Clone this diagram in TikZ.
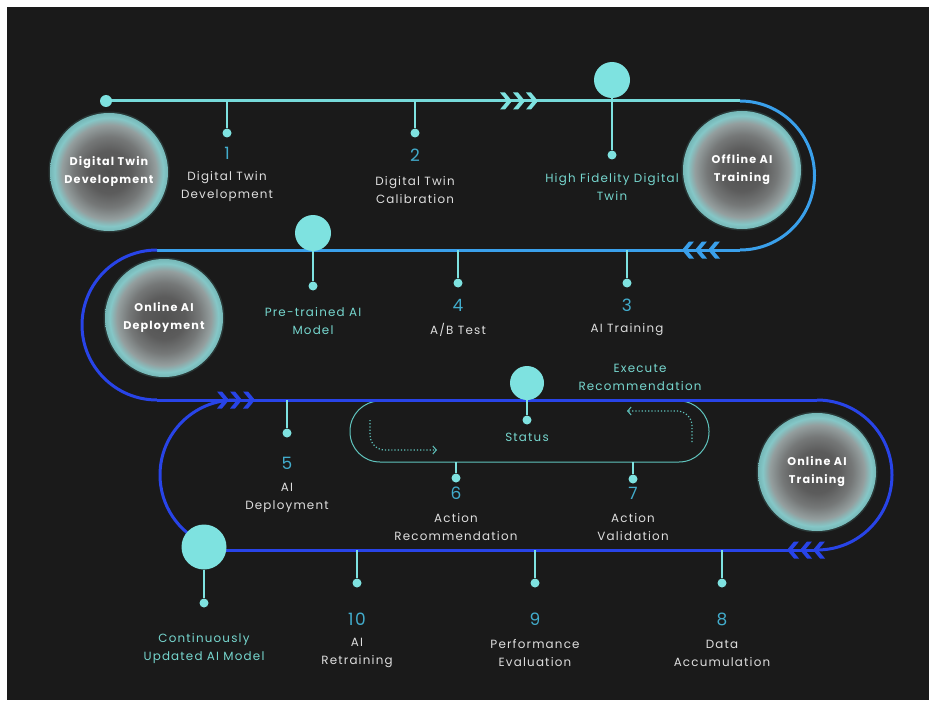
\documentclass[tikz,border=0pt]{standalone}
\usepackage{fontspec}
\setmainfont{Poppins}[LetterSpace=10]
\usetikzlibrary{arrows.meta}

\definecolor{bgdark}{RGB}{26,26,26}
\definecolor{aqua}{RGB}{126,226,224}
\definecolor{aqualine}{RGB}{118,218,218}
\definecolor{skyblue}{RGB}{58,160,235}
\definecolor{royal}{RGB}{40,68,232}
\definecolor{numblue}{RGB}{66,172,204}
\definecolor{labwhite}{RGB}{222,222,222}
\definecolor{labcyan}{RGB}{118,214,206}
\definecolor{loopline}{RGB}{96,196,190}

% grey orb with a cyan rim
\pgfdeclareradialshading{orb}{\pgfpoint{0bp}{0bp}}{%
  rgb(0bp)=(0.32,0.32,0.32);
  rgb(9bp)=(0.36,0.36,0.36);
  rgb(15bp)=(0.46,0.47,0.47);
  rgb(20bp)=(0.58,0.62,0.62);
  rgb(23bp)=(0.52,0.78,0.78);
  rgb(25bp)=(0.46,0.72,0.72);
  rgb(50bp)=(0.46,0.72,0.72)}

\tikzset{
  orbnode/.style={circle, minimum size=118pt, inner sep=0pt, shade, shading=orb,
    text=white, align=center, font=\bfseries\fontsize{11.2}{18}\selectfont},
  hub/.style={circle, fill=aqua, inner sep=0pt, minimum size=#1},
  dotnode/.style={circle, fill=aqua, inner sep=0pt, minimum size=9pt},
  startdot/.style={circle, fill=aqua, inner sep=0pt, minimum size=12pt},
  tick/.style={draw=aqua, line width=2.4pt},
  thintick/.style={draw=aqua, line width=1.6pt},
  track/.style={line width=3pt},
  num/.style={text=numblue, inner sep=0pt, font=\fontsize{17}{20}\selectfont},
  lab/.style={text=labwhite, inner sep=0pt, align=center, font=\fontsize{11.9}{18}\selectfont},
  clab/.style={lab, text=labcyan},
  chevR/.pic={\fill[#1] (-12,-8.5) -- (-7,-8.5) -- (0,0) -- (-7,8.5) -- (-12,8.5) -- (-5,0) -- cycle;},
  chevL/.pic={\fill[#1] (12,-8.5) -- (7,-8.5) -- (0,0) -- (7,8.5) -- (12,8.5) -- (5,0) -- cycle;},
}

\begin{document}
\begin{tikzpicture}[x=1pt, y=-1pt]
\useasboundingbox (0,0) rectangle (935,706);
\fill[white] (0,0) rectangle (935,706);
\fill[bgdark] (7,7) rectangle (929,700);

% ---------- the winding track ----------
\coordinate (r1s) at (106,101);
\coordinate (r1e) at (740,101);
\coordinate (r2e) at (157,250);
\coordinate (r3e) at (817,400);
\coordinate (r4s) at (204,550);
\coordinate (ilp) at (235,400);

% control loop behind the third row
\draw[draw=loopline, line width=1pt, rounded corners=30pt] (350,401) rectangle (709,462);
\coordinate (lp6) at (456,462);
\coordinate (lp7) at (633,462);

\draw[track, draw=aqualine] (r1s) -- (r1e);
\draw[track, draw=skyblue] (r1e) arc (-90:90:74.5) coordinate (r2s);
\draw[track, draw=skyblue] (r2s) -- (r2e);
\draw[track, draw=royal] (r2e) arc (-90:-270:75) coordinate (r3s);
\draw[track, draw=royal] (r3s) -- (r3e);
\draw[track, draw=royal] (r3e) arc (-90:90:75) coordinate (r4e);
\draw[track, draw=royal] (r4e) -- (r4s);
\draw[track, draw=royal] (ilp) arc (-90:-247:75);

% direction chevrons
\foreach \t in {512,525,538} \pic at (\t,101) {chevR=aqua};
\foreach \t in {682,695,708} \pic at (\t,250) {chevL=skyblue};
\foreach \t in {229,242,255} \pic at (\t,400) {chevR=royal};
\foreach \t in {787,800,813} \pic at (\t,550) {chevL=royal};

% ---------- stage orbs ----------
\foreach \p in {(109,172),(742,170),(164,318),(817,472)}
  \fill[aqua, opacity=0.14] \p circle (60.5);
\node[orbnode] (o1) at (109,172) {Digital Twin\\Development};
\node[orbnode] (o2) at (742,170) {Offline AI\\Training};
\node[orbnode] (o3) at (164,318) {Online AI\\Deployment};
\node[orbnode] (o4) at (817,472) {Online AI\\Training};

% ---------- row 1 ----------
\node[startdot] (s0) at (r1s) {};
\coordinate (a1) at (227,101);
\node[dotnode] (d1) at (227,133) {};
\draw[tick] (a1) -- (d1);
\node[num] (n1) at (227,153) {1};
\node[lab] (l1) at (227,187) {Digital Twin\\Development};

\coordinate (a2) at (415,101);
\node[dotnode] (d2) at (415,133) {};
\draw[tick] (a2) -- (d2);
\node[num] (n2) at (415,155) {2};
\node[lab] (l2) at (415,190) {Digital Twin\\Calibration};

\node[hub=36pt] (h1) at (612,80) {};
\node[dotnode] (hd1) at (612,155) {};
\draw[thintick] (h1) -- (hd1);
\node[clab] (hl1) at (612,187) {High Fidelity Digital\\Twin};

% ---------- row 2 ----------
\node[hub=36pt] (h2) at (313,233) {};
\node[dotnode] (hd2) at (313,286) {};
\draw[thintick] (h2) -- (hd2);
\node[clab] (hl2) at (313,321) {Pre-trained AI\\Model};

\coordinate (a4) at (458,250);
\node[dotnode] (d4) at (458,283) {};
\draw[tick] (a4) -- (d4);
\node[num] (n4) at (458,305) {4};
\node[lab] (l4) at (458,330) {A/B Test};

\coordinate (a3) at (627,250);
\node[dotnode] (d3) at (627,283) {};
\draw[tick] (a3) -- (d3);
\node[num] (n3) at (627,305) {3};
\node[lab] (l3) at (627,330) {AI Training};

% ---------- row 3 ----------
\coordinate (a5) at (287,400);
\node[dotnode] (d5) at (287,433) {};
\draw[tick] (a5) -- (d5);
\node[num] (n5) at (287,463) {5};
\node[lab] (l5) at (287,498) {AI\\Deployment};

\node[hub=34pt] (h3) at (527,383) {};
\node[dotnode] (hd3) at (527,420) {};
\draw[thintick] (h3) -- (hd3);
\node[clab] (st) at (527,437) {Status};
\node[clab] (ex) at (640,377) {Execute\\Recommendation};

\coordinate (la) at (370,420);
\coordinate (lb) at (437,450);
\draw[draw=loopline, line width=1.2pt, dotted, rounded corners=15pt,
  -{Straight Barb[length=3.5pt, width=8pt, line width=1pt]}] (la) |- (lb);
\coordinate (ra) at (692,442);
\coordinate (rb) at (627,411);
\draw[draw=loopline, line width=1.2pt, dotted, rounded corners=15pt,
  -{Straight Barb[length=3.5pt, width=8pt, line width=1pt]}] (ra) |- (rb);

\node[dotnode] (d6) at (456,478) {};
\draw[tick] (lp6) -- (d6);
\node[num] (n6) at (456,493) {6};
\node[lab] (l6) at (456,527) {Action\\Recommendation};

\node[dotnode] (d7) at (633,479) {};
\draw[tick] (lp7) -- (d7);
\node[num] (n7) at (633,493) {7};
\node[lab] (l7) at (633,527) {Action\\Validation};

% ---------- row 4 ----------
\node[hub=45pt] (h4) at (204,547) {};
\node[dotnode] (hd4) at (204,603) {};
\draw[thintick] (h4) -- (hd4);
\node[clab] (hl4) at (204,649) {Continuously\\Updated AI Model};

\coordinate (a10) at (357,550);
\node[dotnode] (d10) at (357,583) {};
\draw[tick] (a10) -- (d10);
\node[num] (n10) at (357,619) {10};
\node[lab] (l10) at (357,653) {AI\\Retraining};

\coordinate (a9) at (535,550);
\node[dotnode] (d9) at (535,583) {};
\draw[tick] (a9) -- (d9);
\node[num] (n9) at (535,619) {9};
\node[lab] (l9) at (535,653) {Performance\\Evaluation};

\coordinate (a8) at (722,550);
\node[dotnode] (d8) at (722,583) {};
\draw[tick] (a8) -- (d8);
\node[num] (n8) at (722,619) {8};
\node[lab] (l8) at (722,653) {Data\\Accumulation};
\end{tikzpicture}
\end{document}
